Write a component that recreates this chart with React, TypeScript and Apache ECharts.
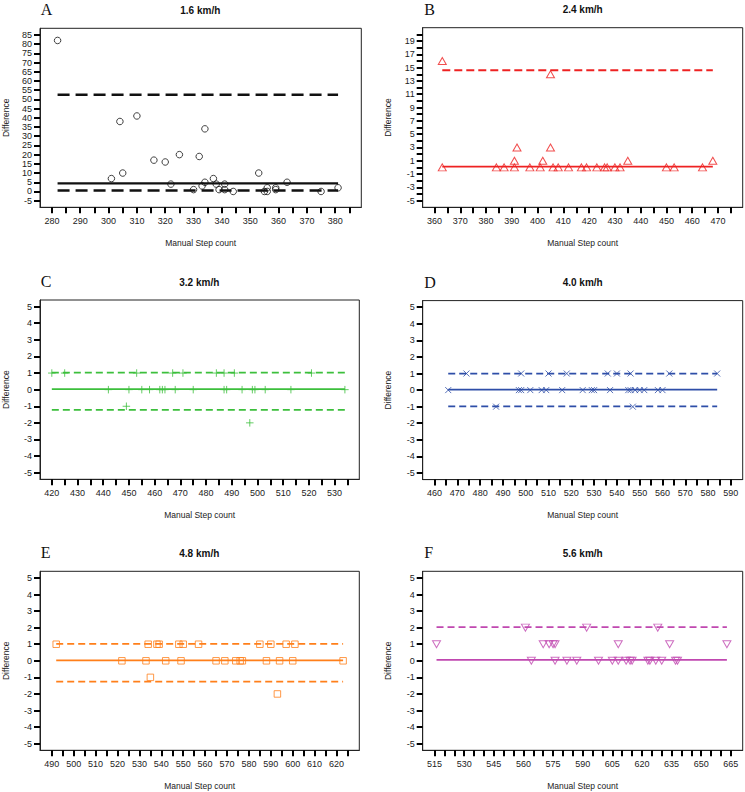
import React, { useEffect, useRef } from "react";
import * as echarts from "echarts";

// ---------- Data ----------
const panelLetters = ["A", "B", "C", "D", "E", "F"];
const panelTitles = ["1.6 km/h", "2.4 km/h", "3.2 km/h", "4.0 km/h", "4.8 km/h", "5.6 km/h"];

// Panel A (1.6 km/h)
const xA = [282, 301, 304, 305, 310, 316, 320, 322, 325, 330, 332, 333, 334, 334, 337, 338, 339, 341, 341, 344, 353, 355, 356, 356, 359, 359, 363, 375, 381];
const yA = [82, 7, 38, 10, 41, 17, 16, 4, 20, 1, 19, 3, 34, 5, 7, 4, 1, 4, 1, 0, 10, 0, 0, 2, 2, 1, 5, 0, 2];
const linesA = { mean: 4.4, upper: 52.5, lower: 0.5 };

// Panel B (2.4 km/h)
const xB = [363, 363, 384, 387, 391, 391, 392, 397, 401, 402, 405, 405, 406, 408, 412, 417, 419, 423, 426, 427, 430, 432, 435, 450, 453, 464, 468];
const yB = [16, 0, 0, 0, 0, 1, 3, 0, 0, 1, 3, 14, 0, 0, 0, 0, 0, 0, 0, 0, 0, 0, 1, 0, 0, 0, 1];
const linesB = { mean: 0.1, upper: 14.6, lower: null };

// Panel C (3.2 km/h)
const xC = [420, 425, 453, 467, 471, 484, 487, 491, 521, 442, 450, 455, 458, 462, 463, 464, 468, 475, 487, 488, 494, 498, 499, 503, 513, 534, 449, 497];
const yC = [1, 1, 1, 1, 1, 1, 1, 1, 1, 0, 0, 0, 0, 0, 0, 0, 0, 0, 0, 0, 0, 0, 0, 0, 0, 0, -1, -2];
const linesC = { mean: 0.03, upper: 1.02, lower: -1.22 };

// Panel D (4.0 km/h)
const xD = [474, 498, 510, 518, 536, 540, 546, 563, 584, 466, 497, 498, 502, 507, 509, 516, 525, 529, 530, 537, 545, 546, 548, 550, 552, 558, 560, 487, 547];
const yD = [1, 1, 1, 1, 1, 1, 1, 1, 1, 0, 0, 0, 0, 0, 0, 0, 0, 0, 0, 0, 0, 0, 0, 0, 0, 0, 0, -1, -1];
const linesD = { mean: 0.03, upper: 1.0, lower: -0.98 };

// Panel E (4.8 km/h)
const xE = [492, 534, 538, 539, 548, 550, 557, 585, 590, 597, 601, 522, 533, 542, 549, 565, 569, 574, 576, 577, 588, 594, 600, 623, 535, 593];
const yE = [1, 1, 1, 1, 1, 1, 1, 1, 1, 1, 1, 0, 0, 0, 0, 0, 0, 0, 0, 0, 0, 0, 0, 0, -1, -2];
const linesE = { mean: 0.03, upper: 1.02, lower: -1.26 };

// Panel F (5.6 km/h)
const xF = [561, 592, 628, 516, 570, 573, 575, 576, 608, 634, 663, 564, 576, 582, 587, 598, 605, 608, 612, 614, 615, 623, 624, 627, 630, 637, 638];
const yF = [2, 2, 2, 1, 1, 1, 1, 1, 1, 1, 1, 0, 0, 0, 0, 0, 0, 0, 0, 0, 0, 0, 0, 0, 0, 0, 0];
const linesF = { mean: 0.05, upper: 2.03, lower: null };

// Tick marks and tick labels
const xTicksA = [280, 285, 290, 295, 300, 305, 310, 315, 320, 325, 330, 335, 340, 345, 350, 355, 360, 365, 370, 375, 380, 385];
const xLabelsA = [280, 290, 300, 310, 320, 330, 340, 350, 360, 370, 380];
const yTicksA = [-5, 0, 5, 10, 15, 20, 25, 30, 35, 40, 45, 50, 55, 60, 65, 70, 75, 80, 85];
const yLabelsA = yTicksA;

const xTicksB = [360, 365, 370, 375, 380, 385, 390, 395, 400, 405, 410, 415, 420, 425, 430, 435, 440, 445, 450, 455, 460, 465, 470, 475];
const xLabelsB = [360, 370, 380, 390, 400, 410, 420, 430, 440, 450, 460, 470];
const yTicksB = [-5, -4, -3, -2, -1, 0, 1, 2, 3, 4, 5, 6, 7, 8, 9, 10, 11, 12, 13, 14, 15, 16, 17, 18, 19, 20];
const yLabelsB = [-5, -3, -1, 1, 3, 5, 7, 9, 11, 13, 15, 17, 19];

const xTicksC = [420, 425, 430, 435, 440, 445, 450, 455, 460, 465, 470, 475, 480, 485, 490, 495, 500, 505, 510, 515, 520, 525, 530, 535];
const xLabelsC = [420, 430, 440, 450, 460, 470, 480, 490, 500, 510, 520, 530];

const xTicksD = [460, 465, 470, 475, 480, 485, 490, 495, 500, 505, 510, 515, 520, 525, 530, 535, 540, 545, 550, 555, 560, 565, 570, 575, 580, 585, 590];
const xLabelsD = [460, 470, 480, 490, 500, 510, 520, 530, 540, 550, 560, 570, 580, 590];

const xTicksE = [490, 495, 500, 505, 510, 515, 520, 525, 530, 535, 540, 545, 550, 555, 560, 565, 570, 575, 580, 585, 590, 595, 600, 605, 610, 615, 620, 625];
const xLabelsE = [490, 500, 510, 520, 530, 540, 550, 560, 570, 580, 590, 600, 610, 620];

const xTicksF = [515, 520, 525, 530, 535, 540, 545, 550, 555, 560, 565, 570, 575, 580, 585, 590, 595, 600, 605, 610, 615, 620, 625, 630, 635, 640, 645, 650, 655, 660, 665];
const xLabelsF = [515, 530, 545, 560, 575, 590, 605, 620, 635, 650, 665];

const yTicksSmall = [-5, -4, -3, -2, -1, 0, 1, 2, 3, 4, 5];

// ---------- Styling / layout ----------
const SANS = "'Liberation Sans', Arial, sans-serif";
const SERIF = "'Liberation Serif', 'Times New Roman', serif";

const SYM_UP = "path://M5 0L10 8.66L0 8.66Z";
const SYM_DOWN = "path://M0 0L10 0L5 8.66Z";
const SYM_PLUS = "path://M0 5L10 5M5 0L5 10";
const SYM_CROSS = "path://M0 0L10 10M10 0L0 10";

const panels = [
  { x: xA, y: yA, lines: linesA, color: "#111111", symbol: "circle", size: 6.5, xRange: [275.8, 389.2], yRange: [-8.6, 88.6], xTicks: xTicksA, xLabels: xLabelsA, yTicks: yTicksA, yLabels: yLabelsA, grid: { left: 39.3, top: 28.3, width: 322, height: 179 }, lw: 2.4, dash: [12, 6] },
  { x: xB, y: yB, lines: linesB, color: "#EE2222", symbol: SYM_UP, size: [8, 7], xRange: [355.4, 479.6], yRange: [-6, 21], xTicks: xTicksB, xLabels: xLabelsB, yTicks: yTicksB, yLabels: yLabelsB, grid: { left: 422.7, top: 27.7, width: 320, height: 179.6 }, lw: 1.8, dash: [8, 4] },
  { x: xC, y: yC, lines: linesC, color: "#3CBF3C", symbol: SYM_PLUS, size: 7.5, xRange: [415.4, 539.6], yRange: [-5.4, 5.4], xTicks: xTicksC, xLabels: xLabelsC, yTicks: yTicksSmall, yLabels: yTicksSmall, grid: { left: 39.3, top: 300, width: 320, height: 179.3 }, lw: 1.8, dash: [7, 4] },
  { x: xD, y: yD, lines: linesD, color: "#2E4EA8", symbol: SYM_CROSS, size: 6, xRange: [454.8, 595.2], yRange: [-5.4, 5.4], xTicks: xTicksD, xLabels: xLabelsD, yTicks: yTicksSmall, yLabels: yTicksSmall, grid: { left: 422.7, top: 300.6, width: 320, height: 179 }, lw: 1.8, dash: [7, 4] },
  { x: xE, y: yE, lines: linesE, color: "#FF7F1A", symbol: "rect", size: 6.5, xRange: [484.6, 630.4], yRange: [-5.4, 5.4], xTicks: xTicksE, xLabels: xLabelsE, yTicks: yTicksSmall, yLabels: yTicksSmall, grid: { left: 39.3, top: 571.3, width: 320, height: 179 }, lw: 1.8, dash: [7, 4] },
  { x: xF, y: yF, lines: linesF, color: "#C048B0", symbol: SYM_DOWN, size: [8, 7], xRange: [509, 671], yRange: [-5.4, 5.4], xTicks: xTicksF, xLabels: xLabelsF, yTicks: yTicksSmall, yLabels: yTicksSmall, grid: { left: 422.7, top: 571.3, width: 320, height: 179 }, lw: 1.8, dash: [7, 4] },
];

function buildOption() {
  const grids: any[] = [];
  const xAxes: any[] = [];
  const yAxes: any[] = [];
  const series: any[] = [];
  const graphics: any[] = [];

  panels.forEach((p, i) => {
    grids.push({
      ...p.grid,
      show: true,
      borderColor: "#222",
      borderWidth: 1,
    });
    xAxes.push({
      type: "value",
      gridIndex: i,
      min: p.xRange[0],
      max: p.xRange[1],
      splitLine: { show: false },
      axisLine: { show: true, onZero: false, lineStyle: { color: "#222", width: 1 } },
      axisTick: { show: true, length: 6, customValues: p.xTicks, lineStyle: { color: "#000", width: 2 } },
      axisLabel: { customValues: p.xLabels, fontSize: 9, margin: 9, color: "#222", fontFamily: SANS },
      name: "Manual Step count",
      nameLocation: "middle",
      nameGap: 31,
      nameTextStyle: { fontSize: 8.5, color: "#222", fontFamily: SANS },
    });
    yAxes.push({
      type: "value",
      gridIndex: i,
      min: p.yRange[0],
      max: p.yRange[1],
      splitLine: { show: false },
      axisLine: { show: true, onZero: false, lineStyle: { color: "#222", width: 1 } },
      axisTick: { show: true, length: 6, customValues: p.yTicks, lineStyle: { color: "#000", width: 2 } },
      axisLabel: { customValues: p.yLabels, fontSize: 9, margin: 8, color: "#222", fontFamily: SANS },
      name: "Difference",
      nameLocation: "middle",
      nameRotate: 90,
      nameGap: 30,
      nameTextStyle: { fontSize: 8.5, color: "#222", fontFamily: SANS },
    });

    const xMin = Math.min(...p.x);
    const xMax = Math.max(...p.x);
    const addLine = (val: number | null, dashed: boolean) => {
      if (val === null || val === undefined) return;
      series.push({
        type: "line",
        xAxisIndex: i,
        yAxisIndex: i,
        data: [[xMin, val], [xMax, val]],
        symbol: "none",
        silent: true,
        z: 1,
        lineStyle: { color: p.color, width: p.lw, type: dashed ? p.dash : "solid" },
      });
    };
    addLine(p.lines.mean, false);
    addLine(p.lines.upper, true);
    addLine(p.lines.lower, true);

    series.push({
      type: "scatter",
      xAxisIndex: i,
      yAxisIndex: i,
      data: p.x.map((xv, k) => [xv, p.y[k]]),
      symbol: p.symbol,
      symbolSize: p.size,
      z: 2,
      itemStyle: { color: "transparent", borderColor: p.color, borderWidth: 1 },
    });

    const g = p.grid;
    graphics.push({
      type: "text",
      x: g.left + g.width / 2,
      y: g.top - 18,
      style: {
        text: panelTitles[i],
        font: `bold 10px ${SANS}`,
        fill: "#111",
        textAlign: "center",
        textVerticalAlign: "middle",
      },
    });
    graphics.push({
      type: "text",
      x: g.left + 1.5,
      y: g.top - 18.5,
      style: {
        text: panelLetters[i],
        font: `16px ${SERIF}`,
        fill: "#111",
        textAlign: "left",
        textVerticalAlign: "middle",
      },
    });
  });

  return {
    animation: false,
    backgroundColor: "#ffffff",
    grid: grids,
    xAxis: xAxes,
    yAxis: yAxes,
    series,
    graphic: graphics,
  };
}

export default function App() {
  const ref = useRef<HTMLDivElement | null>(null);
  useEffect(() => {
    if (!ref.current) return;
    const chart = echarts.init(ref.current, undefined, { renderer: "svg" });
    chart.setOption(buildOption() as any);
    return () => {
      chart.dispose();
    };
  }, []);
  return (
    <div
      ref={ref}
      style={{ position: "absolute", left: 0, top: 0, width: 745, height: 792, background: "#fff" }}
    />
  );
}
